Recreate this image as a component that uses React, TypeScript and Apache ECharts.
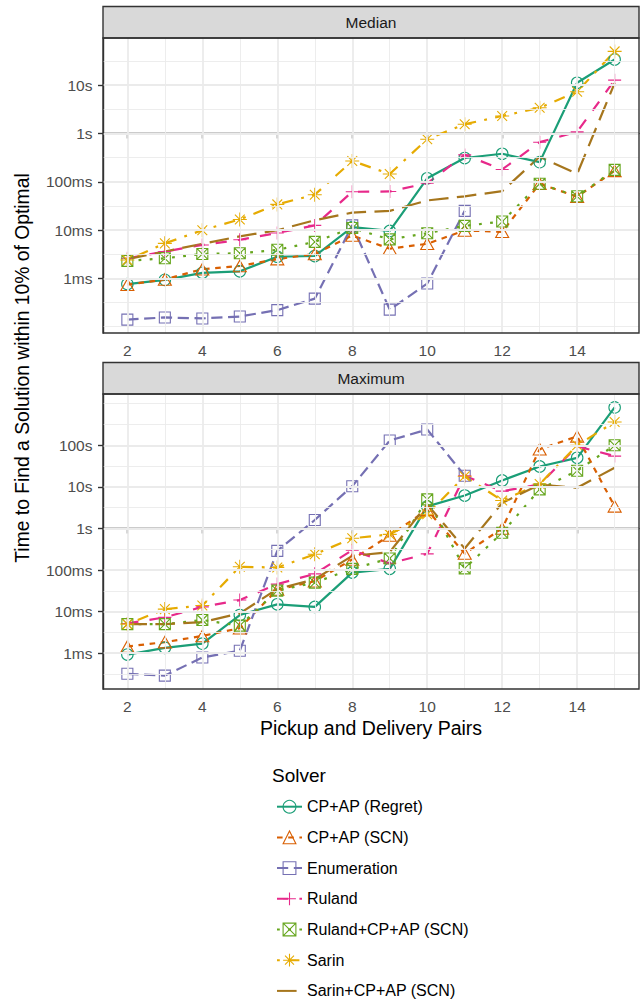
import { useEffect, useRef } from "react";
import * as echarts from "echarts";

// Number of pickup-and-delivery pairs in each instance size
const pairs = [2, 3, 4, 5, 6, 7, 8, 9, 10, 11, 12, 13, 14, 15];

const solvers = [
  "CP+AP (Regret)",
  "CP+AP (SCN)",
  "Enumeration",
  "Ruland",
  "Ruland+CP+AP (SCN)",
  "Sarin",
  "Sarin+CP+AP (SCN)",
];

// Median time (seconds) to reach a solution within 10% of optimal; null = not run
const medianCpApRegret = [0.00076, 0.00093, 0.0013, 0.0014, 0.0028, 0.0029, 0.0115, 0.0096, 0.118, 0.31, 0.38, 0.255, 11.2, 34];
const medianCpApScn = [0.00074, 0.00095, 0.00155, 0.0018, 0.0025, 0.0032, 0.0077, 0.0041, 0.0052, 0.0098, 0.0092, 0.091, 0.049, 0.168];
const medianEnumeration = [0.00014, 0.000155, 0.000148, 0.000162, 0.00022, 0.00038, 0.0125, 0.000225, 0.00078, 0.025, null, null, null, null];
const medianRuland = [0.0026, 0.0036, 0.0049, 0.0063, 0.0087, 0.0125, 0.062, 0.063, 0.093, 0.36, 0.18, 0.66, 1.08, 12.7];
const medianRulandCpAp = [0.0023, 0.0026, 0.0032, 0.0033, 0.0039, 0.0057, 0.011, 0.0064, 0.0086, 0.0122, 0.015, 0.091, 0.05, 0.176];
const medianSarin = [0.0024, 0.0053, 0.0099, 0.0166, 0.034, 0.054, 0.27, 0.145, 0.76, 1.55, 2.3, 3.4, 7.3, 50];
const medianSarinCpAp = [0.0025, 0.0036, 0.0052, 0.0074, 0.0099, 0.016, 0.023, 0.025, 0.041, 0.05, 0.064, 0.33, 0.145, 11];

// Maximum time (seconds) to reach a solution within 10% of optimal
const maximumCpApRegret = [0.00093, 0.00135, 0.0017, 0.0083, 0.015, 0.013, 0.087, 0.107, 3.4, 6.2, 14.3, 31, 50, 815];
const maximumCpApScn = [0.00145, 0.00185, 0.0026, 0.004, 0.034, 0.054, 0.18, 0.68, 2.8, 0.25, 1.0, 80, 164, 3.4];
const maximumEnumeration = [0.00032, 0.00029, 0.00079, 0.00115, 0.29, 1.6, 10.4, 130, 240, 18.6, null, null, null, null];
const maximumRuland = [0.0052, 0.0073, 0.013, 0.019, 0.046, 0.081, 0.3, 0.145, 0.245, 18.6, 7.9, 11.4, 95, 55];
const maximumRulandCpAp = [0.005, 0.005, 0.0063, 0.0046, 0.032, 0.05, 0.107, 0.19, 5.0, 0.11, 0.79, 8.7, 24.5, 100];
const maximumSarin = [0.005, 0.0115, 0.014, 0.12, 0.115, 0.24, 0.58, 0.72, 2.2, 18, 4.7, 11.7, 100, 364];
const maximumSarinCpAp = [0.005, 0.005, 0.0056, 0.0091, 0.035, 0.06, 0.22, 0.27, 3.8, 0.33, 4.1, 11.4, 9.5, 29];

const medianTimes = [medianCpApRegret, medianCpApScn, medianEnumeration, medianRuland, medianRulandCpAp, medianSarin, medianSarinCpAp];
const maximumTimes = [maximumCpApRegret, maximumCpApScn, maximumEnumeration, maximumRuland, maximumRulandCpAp, maximumSarin, maximumSarinCpAp];

// Axis breaks
const xTicks = [2, 4, 6, 8, 10, 12, 14];
const timeTickValues = [0.001, 0.01, 0.1, 1, 10, 100];
const timeTickLabels = ["1ms", "10ms", "100ms", "1s", "10s", "100s"];
const medianTickCount = 5;
const maximumTickCount = 6;

// Styling
const solverColors = ["#1B9E77", "#D95F02", "#7570B3", "#E7298A", "#66A61E", "#E6AB02", "#A6761D"];
const DASH = 2.8;
const solverDashes: any[] = [
  "solid",
  [2 * DASH, 2 * DASH],
  [4 * DASH, 2 * DASH],
  [4 * DASH, 4 * DASH],
  [1 * DASH, 3 * DASH],
  [1 * DASH, 3 * DASH, 4 * DASH, 3 * DASH],
  [7 * DASH, 3 * DASH],
];
const PLUS = "path://M5,0L5,10M0,5L10,5";
const BOX_X = "path://M0,0L10,0L10,10L0,10ZM0,0L10,10M0,10L10,0";
const ASTERISK = "path://M5,0L5,10M0,5L10,5M1.5,1.5L8.5,8.5M1.5,8.5L8.5,1.5";
const solverSymbols = ["circle", "triangle", "rect", PLUS, BOX_X, ASTERISK, "none"];
const solverSymbolSizes: any[] = [11.5, [13, 11.5], 11, 13, 11, 14, 0];

const FONT = "'Liberation Sans', Arial, Helvetica, sans-serif";
const GRID_MAJOR = "#ebebeb";
const INK = "#333333";
const TICK_TEXT = "#4d4d4d";

const PANEL_LEFT = 103;
const PANEL_WIDTH = 536;
const PANEL_HEIGHT = 295;
const STRIP_HEIGHT = 31.5;
const panels = [
  { title: "Median", top: 38, times: medianTimes, tickCount: medianTickCount },
  { title: "Maximum", top: 394, times: maximumTimes, tickCount: maximumTickCount },
];

function expandedRange(lo: number, hi: number): [number, number] {
  const pad = (hi - lo) * 0.05;
  return [lo - pad, hi + pad];
}

function logRange(times: (number | null)[][]): [number, number] {
  const logs = times.flat().filter((v) => v != null).map((v) => Math.log10(v as number));
  return expandedRange(Math.min(...logs), Math.max(...logs));
}

function minorBreaks(major: number[], range: [number, number]): number[] {
  const step = major[1] - major[0];
  const b = [major[0] - step, ...major, major[major.length - 1] + step];
  const out: number[] = [];
  for (let i = 0; i < b.length - 1; i++) {
    out.push(b[i], (b[i] + b[i + 1]) / 2);
  }
  out.push(b[b.length - 1]);
  return out.filter((v) => v >= range[0] && v <= range[1] && !major.some((m) => Math.abs(m - v) < 1e-9));
}

export default function App() {
  const ref = useRef<HTMLDivElement>(null);

  useEffect(() => {
    if (!ref.current) return;
    const chart = echarts.init(ref.current, undefined, { renderer: "svg" });

    const xRange = expandedRange(pairs[0], pairs[pairs.length - 1]);
    const xMinor = minorBreaks(xTicks, xRange);

    const grids: any[] = [];
    const xAxes: any[] = [];
    const yAxes: any[] = [];
    const series: any[] = [];
    const graphics: any[] = [];

    panels.forEach((panel, gi) => {
      const yRange = logRange(panel.times);
      const yMajor = timeTickValues.slice(0, panel.tickCount).map((v) => Math.log10(v));
      const yMinor = minorBreaks(yMajor, yRange);

      grids.push({
        left: PANEL_LEFT,
        top: panel.top,
        width: PANEL_WIDTH,
        height: PANEL_HEIGHT,
        show: false,
        containLabel: false,
      });

      xAxes.push({
        type: "value",
        gridIndex: gi,
        min: xRange[0],
        max: xRange[1],
        axisLine: { show: true, lineStyle: { color: INK, width: 1.4 } },
        axisTick: { show: true, customValues: xTicks, length: 5, lineStyle: { color: INK, width: 1.4 } },
        axisLabel: {
          customValues: xTicks,
          color: TICK_TEXT,
          fontSize: 15.5,
          fontFamily: FONT,
          margin: 9,
        },
        splitLine: { show: false },
      });

      yAxes.push({
        type: "value",
        gridIndex: gi,
        min: yRange[0],
        max: yRange[1],
        axisLine: { show: true, lineStyle: { color: INK, width: 1.4 } },
        axisTick: { show: true, customValues: yMajor, length: 5, lineStyle: { color: INK, width: 1.4 } },
        axisLabel: {
          customValues: yMajor,
          color: TICK_TEXT,
          fontSize: 15.5,
          fontFamily: FONT,
          margin: 10.5,
          formatter: (v: number) => {
            const idx = timeTickValues.findIndex((t) => Math.abs(Math.log10(t) - v) < 1e-6);
            return idx >= 0 ? timeTickLabels[idx] : "";
          },
        },
        splitLine: { show: false },
      });

      // Panel grid lines
      const gridLine = (axis: "xAxis" | "yAxis", v: number, width: number) => ({
        [axis]: v,
        lineStyle: { color: GRID_MAJOR, width, type: "solid" },
      });
      series.push({
        type: "line",
        name: "grid-" + gi,
        xAxisIndex: gi,
        yAxisIndex: gi,
        data: [],
        silent: true,
        z: 1,
        markLine: {
          silent: true,
          symbol: ["none", "none"],
          label: { show: false },
          emphasis: { disabled: true },
          data: [
            ...yMinor.map((v) => gridLine("yAxis", v, 0.9)),
            ...xMinor.map((v) => gridLine("xAxis", v, 0.9)),
            ...yMajor.map((v) => gridLine("yAxis", v, 1.8)),
            ...xTicks.map((v) => gridLine("xAxis", v, 1.8)),
          ],
        },
      });

      panel.times.forEach((vals, k) => {
        series.push({
          name: solvers[k],
          type: "line",
          xAxisIndex: gi,
          yAxisIndex: gi,
          data: pairs.flatMap((p, i) => (vals[i] == null ? [] : [[p, Math.log10(vals[i] as number)]])),
          symbol: solverSymbols[k],
          symbolSize: solverSymbolSizes[k],
          lineStyle: { color: solverColors[k], width: 2.2, type: solverDashes[k], cap: "butt", join: "round" },
          itemStyle: { color: "transparent", borderColor: solverColors[k], borderWidth: 1.1 },
          emphasis: { disabled: true },
          silent: true,
          z: 3,
        });
      });

      // Facet strip and panel border
      graphics.push({
        type: "rect",
        shape: { x: PANEL_LEFT, y: panel.top - STRIP_HEIGHT, width: PANEL_WIDTH, height: STRIP_HEIGHT },
        style: { fill: "#d9d9d9", stroke: INK, lineWidth: 1.4 },
        z: 100,
      });
      graphics.push({
        type: "text",
        x: PANEL_LEFT + PANEL_WIDTH / 2,
        y: panel.top - STRIP_HEIGHT / 2,
        style: {
          text: panel.title,
          font: `15.5px ${FONT}`,
          fill: "#1a1a1a",
          textAlign: "center",
          align: "center",
          textVerticalAlign: "middle",
          verticalAlign: "middle",
        },
        z: 101,
      });
      graphics.push({
        type: "rect",
        shape: { x: PANEL_LEFT, y: panel.top, width: PANEL_WIDTH, height: PANEL_HEIGHT },
        style: { fill: "none", stroke: INK, lineWidth: 1.4 },
        z: 100,
      });
    });

    graphics.push({
      type: "text",
      x: 22,
      y: 368,
      rotation: Math.PI / 2,
      style: {
        text: "Time to Find a Solution within 10% of Optimal",
        font: `19.3px ${FONT}`,
        fill: "#000",
        textAlign: "center",
        align: "center",
        textVerticalAlign: "middle",
        verticalAlign: "middle",
      },
    });
    graphics.push({
      type: "text",
      x: PANEL_LEFT + PANEL_WIDTH / 2,
      y: 728,
      style: {
        text: "Pickup and Delivery Pairs",
        font: `19.5px ${FONT}`,
        fill: "#000",
        textAlign: "center",
        align: "center",
        textVerticalAlign: "middle",
        verticalAlign: "middle",
      },
    });
    graphics.push({
      type: "text",
      x: 272,
      y: 775,
      style: {
        text: "Solver",
        font: `19px ${FONT}`,
        fill: "#000",
        textAlign: "left",
        align: "left",
        textVerticalAlign: "middle",
        verticalAlign: "middle",
      },
    });

    chart.setOption({
      animation: false,
      backgroundColor: "#ffffff",
      grid: grids,
      xAxis: xAxes,
      yAxis: yAxes,
      series,
      graphic: { elements: graphics },
      legend: {
        orient: "vertical",
        left: 276,
        top: 798.7,
        padding: 0,
        itemWidth: 25,
        itemHeight: 16,
        itemGap: 14.7,
        selectedMode: false,
        textStyle: { fontSize: 16, color: "#000", fontFamily: FONT, lineHeight: 16 },
        itemStyle: { borderWidth: 1.1 },
        data: solvers.map((name, k) =>
          solverSymbols[k] === "none" ? { name, itemStyle: { borderWidth: 0, color: "transparent" } } : { name }
        ),
      },
    });

    return () => chart.dispose();
  }, []);

  return (
    <div
      ref={ref}
      style={{ position: "absolute", left: 0, top: 0, width: 643, height: 1006, background: "#fff" }}
    />
  );
}
